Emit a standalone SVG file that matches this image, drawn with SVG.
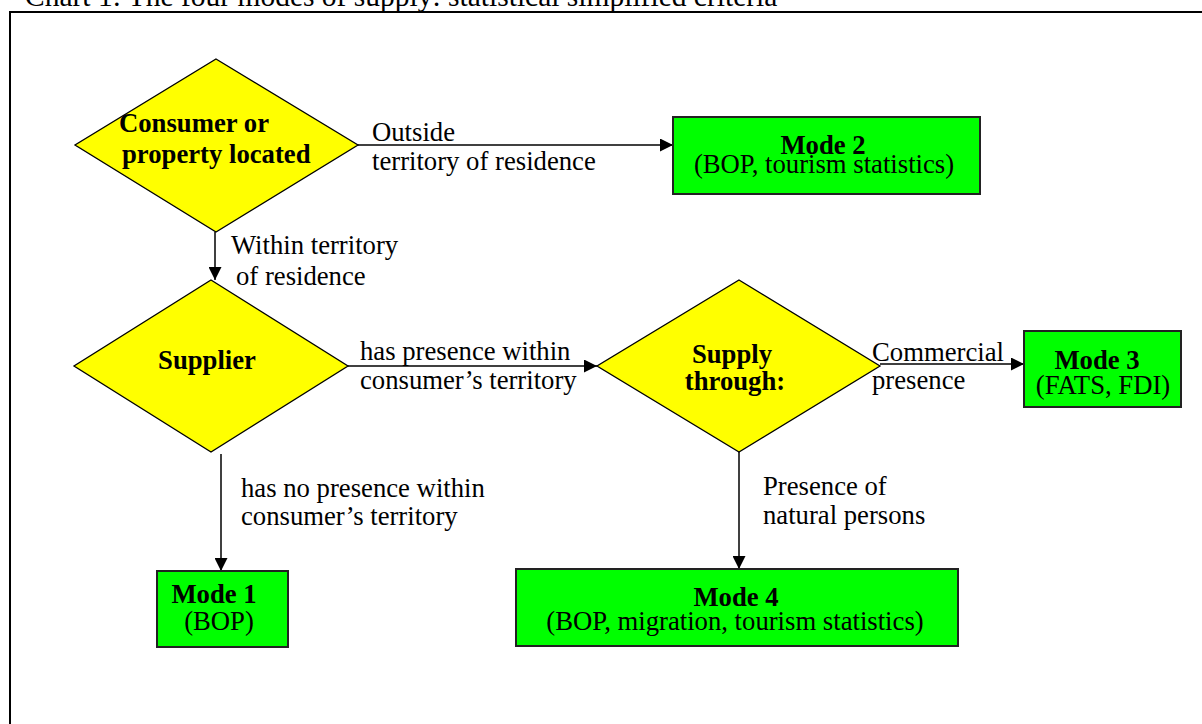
<svg xmlns="http://www.w3.org/2000/svg" width="1202" height="724" viewBox="0 0 1202 724">
<defs>
<marker id="ah" markerUnits="userSpaceOnUse" markerWidth="13" markerHeight="13" viewBox="0 0 12 12" refX="12" refY="6" orient="auto">
<path d="M0,0 L12,6 L0,12 Z" fill="#000"/>
</marker>
<style>
text{font-family:"Liberation Serif","Times New Roman",serif;font-size:26.7px;fill:#000}
.b{font-weight:bold}
.m{text-anchor:middle}
.dia{fill:#ffff00;stroke:#000;stroke-width:1.3}
.box{fill:#00ff00;stroke:#222;stroke-width:2}
.con line{stroke:#000;stroke-width:1.5;marker-end:url(#ah)}
</style>
</defs>
<rect width="1202" height="724" fill="#fff"/>
<text x="25" y="6" style="font-size:29.5px">Chart 1: The four modes of supply: statistical simplified criteria</text>
<rect x="10" y="12" width="1200" height="720" fill="none" stroke="#000" stroke-width="2"/>

<g id="connectors" class="con">
<line x1="358" y1="145" x2="673" y2="145"/>
<line x1="215" y1="232" x2="215" y2="280"/>
<line x1="348" y1="366" x2="597" y2="366"/>
<line x1="880" y1="364" x2="1024" y2="364"/>
<line x1="221" y1="454" x2="221" y2="571"/>
<line x1="739" y1="452" x2="739" y2="569"/>
</g>

<g id="connector-labels">
<text x="372" y="141">Outside</text>
<text x="372" y="170">territory of residence</text>
<text x="231" y="254">Within territory</text>
<text x="236" y="285">of residence</text>
<text x="360" y="360">has presence within</text>
<text x="360" y="389">consumer’s territory</text>
<text x="872" y="361">Commercial</text>
<text x="872" y="389">presence</text>
<text x="241" y="497">has no presence within</text>
<text x="241" y="525">consumer’s territory</text>
<text x="763" y="495">Presence of</text>
<text x="763" y="524">natural persons</text>
</g>

<g id="consumer">
<polygon class="dia" points="216,59 358,145 216,232 75,145"/>
<text class="b" x="119" y="132">Consumer or</text>
<text class="b" x="122" y="163">property located</text>
</g>

<g id="supplier">
<polygon class="dia" points="211,280 348,366 211,452 74,366"/>
<text class="b m" x="207" y="369">Supplier</text>
</g>

<g id="supply-through">
<polygon class="dia" points="739,280 880,366 739,452 597,366"/>
<text class="b m" x="732" y="363">Supply</text>
<text class="b m" x="735" y="390">through:</text>
</g>

<g id="mode2">
<rect class="box" x="673" y="117" width="307" height="77"/>
<text class="b m" x="823" y="154">Mode 2</text>
<text class="m" x="824" y="173">(BOP, tourism statistics)</text>
</g>

<g id="mode3">
<rect class="box" x="1024" y="331" width="157" height="76"/>
<text class="b m" x="1097" y="369">Mode 3</text>
<text class="m" x="1103" y="394">(FATS, FDI)</text>
</g>

<g id="mode1">
<rect class="box" x="157" y="571" width="131" height="76"/>
<text class="b m" x="214" y="603">Mode 1</text>
<text class="m" x="219" y="630">(BOP)</text>
</g>

<g id="mode4">
<rect class="box" x="516" y="569" width="442" height="77"/>
<text class="b m" x="736" y="606">Mode 4</text>
<text class="m" x="735" y="630">(BOP, migration, tourism statistics)</text>
</g>
</svg>
